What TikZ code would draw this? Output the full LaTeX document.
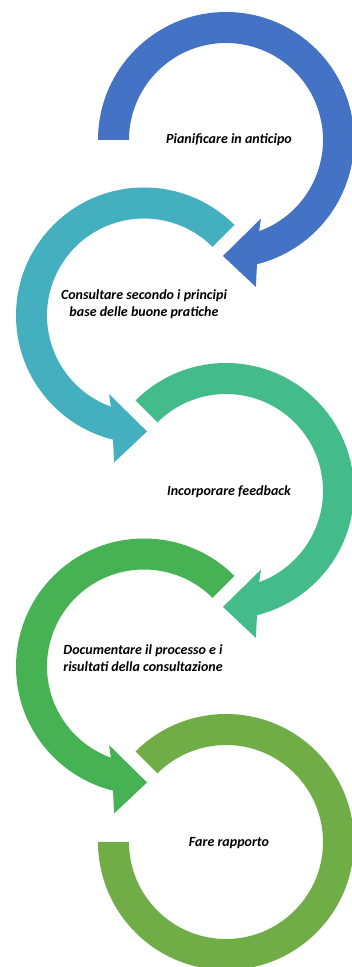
\documentclass[tikz,border=0pt]{standalone}
\usepackage{fontspec}
\setmainfont{Carlito}
\usepackage{tikz}
\usetikzlibrary{positioning}
\definecolor{stepblue}{HTML}{4472C4}
\definecolor{stepteal}{HTML}{44AFBE}
\definecolor{stepmint}{HTML}{44BB8B}
\definecolor{stepgreen}{HTML}{46B254}
\definecolor{steplime}{HTML}{70AD47}

\begin{document}
\begin{tikzpicture}[x=1pt,y=1pt,
    lbl/.style={font=\fontsize{14}{17}\selectfont\bfseries\itshape,align=center,text=black}]
    \useasboundingbox (0,0) rectangle (352,967);

    % centres of the five rings
    \coordinate (c1) at (226,827);
    \coordinate (c2) at (144,651.5);
    \coordinate (c3) at (226,476);
    \coordinate (c4) at (144,300.5);
    \coordinate (c5) at (226,125);

    % ring 1, clockwise, head at the bottom
    \begin{scope}[shift={(c1)}]
      \fill[stepblue] (180:128) arc[start angle=180, end angle=-76, radius=128]
        -- (-78.5:150) -- (-91.5:116) -- (-66:86) -- (-70:97)
        arc[start angle=-70, end angle=180, radius=97] -- cycle;
    \end{scope}

    % ring 2, anticlockwise (mirror of ring 1)
    \begin{scope}[shift={(c2)}]
      \fill[stepteal] (45:128) arc[start angle=45, end angle=256, radius=128]
        -- (258.5:150) -- (271.5:116) -- (246:86) -- (250:97)
        arc[start angle=250, end angle=45, radius=97] -- cycle;
    \end{scope}

    % ring 3, clockwise
    \begin{scope}[shift={(c3)}]
      \fill[stepmint] (135:128) arc[start angle=135, end angle=-76, radius=128]
        -- (-78.5:150) -- (-91.5:116) -- (-66:86) -- (-70:97)
        arc[start angle=-70, end angle=135, radius=97] -- cycle;
    \end{scope}

    % ring 4, anticlockwise
    \begin{scope}[shift={(c4)}]
      \fill[stepgreen] (45:128) arc[start angle=45, end angle=256, radius=128]
        -- (258.5:150) -- (271.5:116) -- (246:86) -- (250:97)
        arc[start angle=250, end angle=45, radius=97] -- cycle;
    \end{scope}

    % ring 5, no head
    \begin{scope}[shift={(c5)}]
      \fill[steplime] (135:128) arc[start angle=135, end angle=-180, radius=128]
        -- (180:97) arc[start angle=-180, end angle=135, radius=97] -- cycle;
    \end{scope}

    % labels
    \node[lbl] (plan) at (229,827)   {Pianificare in anticipo};
    \node[lbl] (cons) at (144,662.5) {Consultare secondo i principi\\base delle buone pratiche};
    \node[lbl] (feed) at (229,475)   {Incorporare feedback};
    \node[lbl] (docu) at (143,308.5) {Documentare il processo e i\\risultati della consultazione};
    \node[lbl] (rapp) at (229,124)   {Fare rapporto};
\end{tikzpicture}
\end{document}
